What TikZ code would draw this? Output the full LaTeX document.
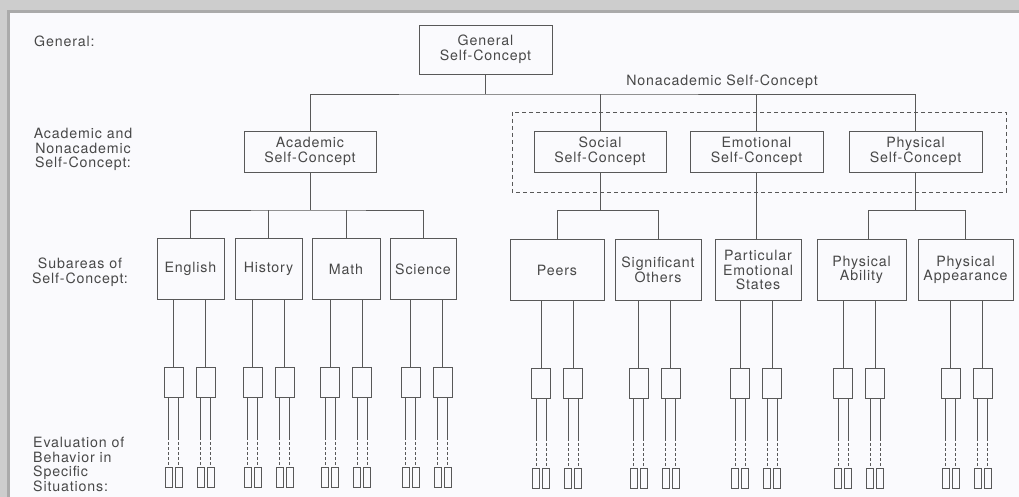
\documentclass[tikz,border=0pt]{standalone}
\usepackage{fontspec}
\setmainfont{TeX Gyre Heros}[LetterSpace=6]
\usetikzlibrary{calc}
\definecolor{inkgray}{RGB}{72, 72, 72}
\definecolor{linegray}{RGB}{88, 88, 88}
\definecolor{paper}{RGB}{250, 250, 253}
\definecolor{framegray}{RGB}{205, 205, 205}
\definecolor{shadegray}{RGB}{170, 170, 170}

\begin{document}
\begin{tikzpicture}[x=1pt, y=-1pt,
  txt/.style={font=\fontsize{14.2}{14.6}\selectfont, text=inkgray, inner sep=0pt},
  box/.style={txt, draw=linegray, line width=0.9pt, align=center, minimum height=41pt},
  subbox/.style={box, minimum height=61pt},
  evalbox/.style={draw=linegray, line width=0.9pt, minimum width=19pt, minimum height=30pt, inner sep=0pt},
  itembox/.style={draw=linegray, line width=0.8pt, minimum width=7pt, minimum height=20pt, inner sep=0pt},
  link/.style={draw=linegray, line width=0.9pt},
  gaplink/.style={link, dash pattern=on 3pt off 2pt}]
  \useasboundingbox (0,0) rectangle (1019,497);

  % Frame and paper
  \fill[framegray] (0,0) rectangle (1019,497);
  \fill[shadegray] (7,10) rectangle (1019,497);
  \fill[paper] (10,13) rectangle (1019,497);

  % Level labels on the left
  \node[txt, anchor=base west] (lvgeneral) at (34,47) {General:};
  \node[txt, align=center, anchor=north] (lvmain) at (83,128) {Academic and\\Nonacademic\\Self-Concept:};
  \node[txt, align=center, anchor=north] (lvsub) at (80,258) {Subareas of\\Self-Concept:};
  \node[txt, align=left, anchor=north west] (lveval) at (33,437) {Evaluation of\\Behavior in\\Specific\\Situations:};

  % General and second level
  \node[box, minimum width=133pt, minimum height=49pt] (general) at (485.5,49.5) {General\\Self-Concept};
  \node[box, minimum width=132pt] (academic) at (310,151.5) {Academic\\Self-Concept};
  \node[box, minimum width=132pt] (social) at (600,151.5) {Social\\Self-Concept};
  \node[box, minimum width=133pt] (emotional) at (756.5,151.5) {Emotional\\Self-Concept};
  \node[box, minimum width=133pt] (physical) at (915.5,151.5) {Physical\\Self-Concept};

  % Nonacademic group
  \node[txt, anchor=base] (nonacad) at (722,86) {Nonacademic Self-Concept};
  \draw[link, dashed, dash pattern=on 4pt off 3pt] (512,112) rectangle (1006,192);

  % Subareas
  \node[subbox, minimum width=67pt] (english) at (190.5,269) {English};
  \node[subbox, minimum width=67pt] (history) at (268.5,269) {History};
  \node[subbox, minimum width=68pt] (math) at (346,269) {Math};
  \node[subbox, minimum width=66pt] (science) at (423,269) {Science};
  \node[subbox, minimum width=94pt] (peers) at (557,270) {Peers};
  \node[subbox, minimum width=86pt] (sigothers) at (658,270) {Significant\\Others};
  \node[subbox, minimum width=86pt] (pes) at (758,270) {Particular\\Emotional\\States};
  \node[subbox, minimum width=89pt] (ability) at (861.5,270) {Physical\\Ability};
  \node[subbox, minimum width=95pt] (appearance) at (965.5,270) {Physical\\Appearance};

  % Tree connectors
  \coordinate (branch) at (485.5,94);
  \draw[link] (general.south) -- (branch);
  \draw[link] (academic.north) |- (branch) -| (physical.north);
  \draw[link] (social.north) -- (social.north |- branch);
  \draw[link] (emotional.north) -- (emotional.north |- branch);

  \coordinate (acbranch) at (310,210);
  \draw[link] (academic.south) -- (acbranch);
  \draw[link] (english.north) |- (acbranch) -| (science.north);
  \draw[link] (history.north) -- (history.north |- acbranch);
  \draw[link] (math.north) -- (math.north |- acbranch);

  \draw[link] (social.south) -- ++(0,38) coordinate (sobranch);
  \draw[link] (peers.north) |- (sobranch) -| (sigothers.north);
  \draw[link] (emotional.south) -- (emotional.south |- pes.north);
  \draw[link] (physical.south) -- ++(0,38) coordinate (phbranch);
  \draw[link] ([xshift=7pt]ability.north) |- (phbranch) -| (appearance.north);

  % Evaluation boxes under each subarea
  \foreach \s/\d in {english/-1, history/0, math/0, science/3.5, peers/0, sigothers/-3.5, pes/-2, ability/-2.5, appearance/1} {
    \foreach \k/\o in {a/-16, b/16} {
      \node[evalbox] (\s-\k) at ($(\s.south)+(\d+\o,82)$) {};
      \draw[link] ($(\s.south)+(\d+\o,0)$) -- (\s-\k.north);
      \foreach \j/\t in {1/-5, 2/5} {
        \node[itembox] (\s-\k-\j) at ($(\s-\k.south)+(\t,80)$) {};
        \draw[link] ($(\s-\k.south)+(\t,0)$) -- ++(0,40) coordinate (\s-\k-\j-gap);
        \draw[gaplink] (\s-\k-\j-gap) -- (\s-\k-\j.north);
      }
    }
  }
\end{tikzpicture}
\end{document}
